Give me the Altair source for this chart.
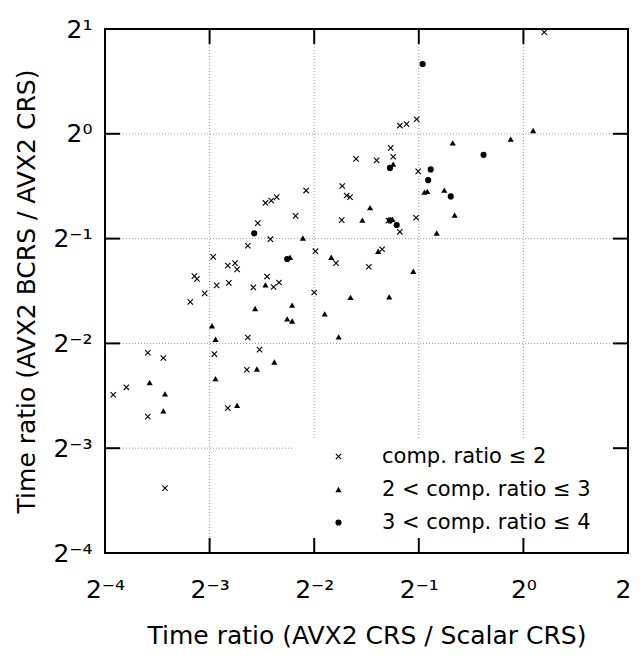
import altair as alt
import pandas as pd

categories = ["comp. ratio ≤ 2", "2 < comp. ratio ≤ 3", "3 < comp. ratio ≤ 4"]

x_le2 = [0.330, 0.301, 0.310, 0.317, 0.237, 0.181, 0.188, 0.195, 0.221, 0.172,
         0.300, 0.187, 0.161, 0.252, 0.128, 0.141, 0.148, 0.150, 0.289, 0.113,
         0.115, 0.131, 0.142, 0.167, 0.183, 0.191, 0.198, 0.359, 1.148, 0.441,
         0.461, 0.493, 0.415, 0.422, 0.378, 0.498, 0.491, 0.409, 0.441, 0.392,
         0.121, 0.110, 0.250, 0.161, 0.174, 0.129, 0.083, 0.092, 0.160, 0.072,
         0.066, 0.083, 0.141, 0.093]
y_le2 = [0.847, 0.708, 0.665, 0.658, 0.687, 0.633, 0.643, 0.658, 0.581, 0.554,
         0.565, 0.498, 0.477, 0.460, 0.443, 0.418, 0.425, 0.408, 0.425, 0.390,
         0.383, 0.367, 0.373, 0.362, 0.389, 0.363, 0.374, 0.415, 1.957, 1.056,
         1.066, 1.101, 0.911, 0.859, 0.839, 0.780, 0.574, 0.563, 0.523, 0.466,
         0.348, 0.329, 0.350, 0.260, 0.240, 0.233, 0.235, 0.227, 0.210, 0.187,
         0.178, 0.154, 0.163, 0.096]

x_2to3 = [0.344, 0.362, 0.232, 0.280, 0.181, 0.213, 1.067, 0.919, 0.626, 0.422,
          0.519, 0.529, 0.592, 0.420, 0.634, 0.563, 0.382, 0.482, 0.318, 0.216,
          0.169, 0.268, 0.209, 0.216, 0.127, 0.130, 0.294, 0.192, 0.171, 0.130,
          0.084, 0.093, 0.150, 0.092, 0.411]
y_2to3 = [0.565, 0.614, 0.502, 0.442, 0.368, 0.442, 1.022, 0.965, 0.942, 0.818,
          0.680, 0.683, 0.689, 0.568, 0.584, 0.519, 0.460, 0.403, 0.339, 0.322,
          0.315, 0.304, 0.294, 0.290, 0.281, 0.257, 0.261, 0.221, 0.211, 0.198,
          0.193, 0.179, 0.166, 0.160, 0.340]

x_3to4 = [0.513, 0.768, 0.413, 0.541, 0.532, 0.618, 0.413, 0.432, 0.168, 0.209]
y_3to4 = [1.587, 0.870, 0.798, 0.790, 0.736, 0.661, 0.564, 0.547, 0.518, 0.437]

tick_values = [0.0625, 0.125, 0.25, 0.5, 1, 2]
tick_labels = ["2⁻⁴", "2⁻³", "2⁻²", "2⁻¹", "2⁰", "2¹"]

rows = []
for cat, xs, ys in zip(categories, [x_le2, x_2to3, x_3to4], [y_le2, y_2to3, y_3to4]):
    for a, b in zip(xs, ys):
        rows.append({"x": a, "y": b, "cat": cat})
df = pd.DataFrame(rows)
ticks_df = pd.DataFrame({"x": tick_values, "y": tick_values})
one_df = pd.DataFrame({"a": [0]})

W, H = 523, 524
FONT = "DejaVu Sans"
TL = 15
INK = "black"

label_expr = "[" + ",".join("'%s'" % l for l in tick_labels) + "][round(log(datum.value)/LN2)+4]"

xscale = alt.Scale(type="log", base=2, domain=[0.0625, 2], nice=False)
yscale = alt.Scale(type="log", base=2, domain=[0.0625, 2], nice=False)

common = dict(values=tick_values, labelExpr=label_expr, grid=False, ticks=False, domain=False,
              labelFont=FONT, labelFontSize=25, labelColor="black", labelFlush=False,
              labelOverlap=False, titleFont=FONT, titleFontSize=25,
              titleFontWeight="normal", titleColor="black")

xaxis = alt.Axis(title="Time ratio (AVX2 CRS / Scalar CRS)", labelPadding=24, titleY=70, **common)
yaxis = alt.Axis(title="Time ratio (AVX2 BCRS / AVX2 CRS)", labelPadding=13, titleX=-66, **common)

cross_path = "M-1,-0.75L-0.75,-1L1,0.75L0.75,1Z M0.75,-1L1,-0.75L-0.75,1L-1,0.75Z"

grid_style = dict(color="#999999", strokeWidth=1, strokeDash=[1, 2])
grid_v = alt.Chart(ticks_df).mark_rule(**grid_style).encode(
    x=alt.X("x:Q", scale=xscale, axis=xaxis))
grid_h = alt.Chart(ticks_df).mark_rule(**grid_style).encode(
    y=alt.Y("y:Q", scale=yscale, axis=yaxis))

legend_bg = alt.Chart(one_df).mark_rect(color="white").encode(
    x=alt.value(188), x2=alt.value(W - 1), y=alt.value(411), y2=alt.value(H - 1)
)

points = alt.Chart(df).mark_point(
    filled=True, color="black", opacity=1, size=38, strokeWidth=0
).encode(
    x=alt.X("x:Q", scale=xscale, axis=xaxis),
    y=alt.Y("y:Q", scale=yscale, axis=yaxis),
    shape=alt.Shape(
        "cat:N",
        scale=alt.Scale(domain=categories, range=[cross_path, "triangle-up", "circle"]),
        legend=alt.Legend(
            title=None, orient="none", legendX=223, legendY=417, padding=0,
            labelFont=FONT, labelFontSize=21, labelColor="black", labelOffset=33,
            labelLimit=400, rowPadding=11, symbolSize=38, symbolFillColor="black",
            symbolStrokeWidth=0, symbolOpacity=1,
        ),
    ),
)

frame = alt.Chart(one_df).mark_rect(filled=False, stroke=INK, strokeWidth=2, opacity=1).encode(
    x=alt.value(0), x2=alt.value(W), y=alt.value(0), y2=alt.value(H)
)

rule = dict(color=INK, strokeWidth=2, opacity=1)
top_ticks = alt.Chart(ticks_df).mark_rule(**rule).encode(
    x=alt.X("x:Q", scale=xscale, axis=xaxis), y=alt.value(0), y2=alt.value(TL))
bottom_ticks = alt.Chart(ticks_df).mark_rule(**rule).encode(
    x=alt.X("x:Q", scale=xscale, axis=xaxis), y=alt.value(H - TL), y2=alt.value(H))
left_ticks = alt.Chart(ticks_df).mark_rule(**rule).encode(
    y=alt.Y("y:Q", scale=yscale, axis=yaxis), x=alt.value(0), x2=alt.value(TL))
right_ticks = alt.Chart(ticks_df).mark_rule(**rule).encode(
    y=alt.Y("y:Q", scale=yscale, axis=yaxis), x=alt.value(W - TL), x2=alt.value(W))

chart = alt.layer(
    grid_v, grid_h, legend_bg, points, frame, top_ticks, bottom_ticks, left_ticks, right_ticks
).properties(
    width=W, height=H, autosize="none", background="white",
    padding={"left": 97, "top": 21, "right": 4, "bottom": 96},
).configure_view(stroke=None)

chart.save("out.html", embed_options={"renderer": "svg", "actions": False})
